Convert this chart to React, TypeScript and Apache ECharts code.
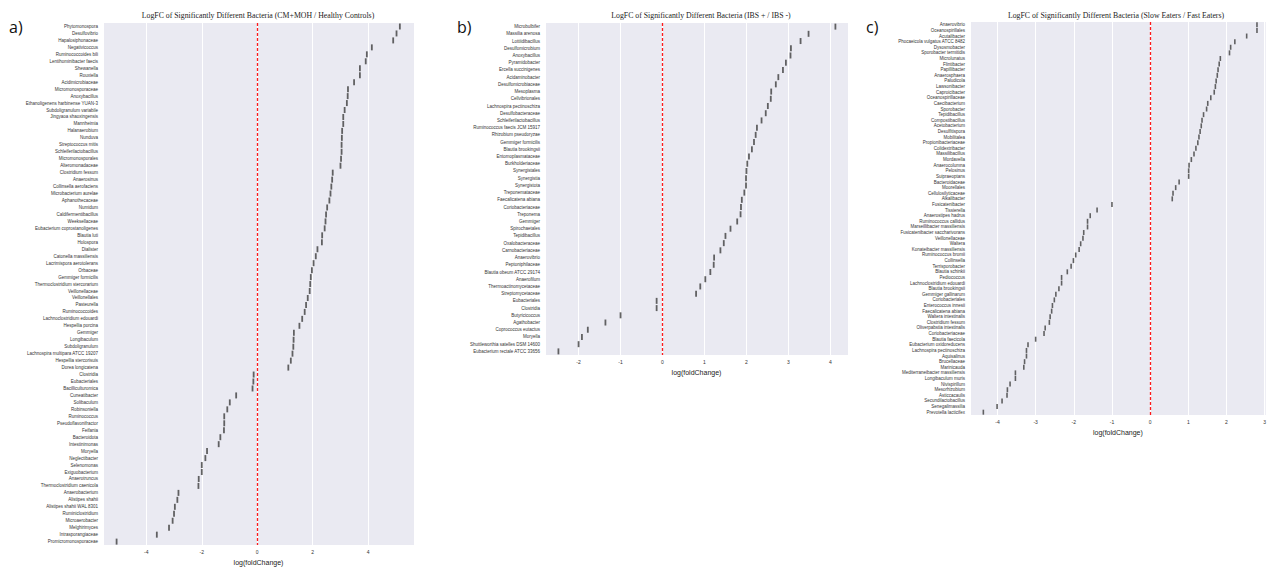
import React, { useEffect, useRef } from "react";
import * as echarts from "echarts";

// Panel a) CM+MOH vs healthy controls
const catsA = [
  "Phytomonospora", "Desulfovibrio", "Hapalosiphonaceae", "Negativicoccus", "Ruminococcoides bili",
  "Lentihominibacter faecis", "Shewanella", "Rouxiella", "Acidimicrobiaceae", "Micromonosporaceae",
  "Anoxybacillus", "Ethanoligenens harbinense YUAN-3", "Subdoligranulum variabile", "Jingyaoa shaoxingensis", "Mannheimia",
  "Halanaerobium", "Nunduva", "Streptococcus mitis", "Schleiferilactobacillus", "Micromonosporales",
  "Alteromonadaceae", "Clostridium fessum", "Anaerosinus", "Collinsella aerofaciens", "Microbacterium aurelae",
  "Aphanothecaceae", "Numidum", "Caldifermentibacillus", "Weeksellaceae", "Eubacterium coprostanoligenes",
  "Blautia luti", "Holospora", "Dialister", "Catonella massiliensis", "Lacrimispora aerotolerans",
  "Orbaceae", "Gemmiger formicilis", "Thermoclostridium stercorarium", "Veillonellaceae", "Veillonellales",
  "Pasteurella", "Ruminococcoides", "Lachnoclostridium edouardi", "Hespellia porcina", "Gemmiger",
  "Longibaculum", "Subdoligranulum", "Lachnospira multipara ATCC 19207", "Hespellia stercorisuis", "Dorea longicatena",
  "Clostridia", "Eubacteriales", "Bacilliculturomica", "Cuneatibacter", "Solibaculum",
  "Robinsoniella", "Ruminococcus", "Pseudoflavonifractor", "Feifania", "Bacteroidota",
  "Intestinimonas", "Moryella", "Neglectibacter", "Selenomonas", "Exiguobacterium",
  "Anaerotruncus", "Thermoclostridium caenicola", "Anaerobacterium", "Alistipes shahii", "Alistipes shahii WAL 8301",
  "Ruminiclostridium", "Microaerobacter", "Melghirimyces", "Intrasporangiaceae", "Promicromonosporaceae",
];
const valsA = [
  5.14, 5.02, 4.9, 4.13, 3.95,
  3.91, 3.7, 3.7, 3.49, 3.27,
  3.26, 3.23, 3.15, 3.1, 3.1,
  3.06, 3.05, 3.04, 3.04, 3.02,
  3.0, 2.72, 2.7, 2.67, 2.64,
  2.6, 2.52, 2.48, 2.46, 2.43,
  2.34, 2.33, 2.17, 2.11, 2.03,
  1.97, 1.93, 1.91, 1.89, 1.82,
  1.76, 1.71, 1.62, 1.52, 1.32,
  1.31, 1.3, 1.27, 1.21, 1.12,
  -0.13, -0.14, -0.17, -0.76, -0.99,
  -1.08, -1.19, -1.19, -1.2, -1.33,
  -1.39, -1.81, -1.87, -2.0, -2.0,
  -2.11, -2.12, -2.84, -2.88, -2.97,
  -3.0, -3.05, -3.18, -3.62, -5.07,
];

// Panel b) IBS+ vs IBS-
const catsB = [
  "Microbulbifer", "Massilia arenosa", "Lottiidibacillus", "Desulfomicrobium", "Anoxybacillus",
  "Pyramidobacter", "Ercella succinigenes", "Acidaminobacter", "Desulfomicrobiaceae", "Mesoplasma",
  "Cellvibrionales", "Lachnospira pectinoschiza", "Desulfobacteraceae", "Schleiferilactobacillus", "Ruminococcus faecis JCM 15917",
  "Rhizobium pseudoryzae", "Gemmiger formicilis", "Blautia brookingsii", "Entomoplasmataceae", "Burkholderiaceae",
  "Synergistales", "Synergistia", "Synergistota", "Treponemataceae", "Faecalicatena abiana",
  "Coriobacteriaceae", "Treponema", "Gemmiger", "Spirochaetales", "Tepidibacillus",
  "Oxalobacteraceae", "Carnobacteriaceae", "Anaerovibrio", "Peptoniphilaceae", "Blautia obeum ATCC 29174",
  "Anaerofilum", "Thermoactinomycetaceae", "Streptomycetaceae", "Eubacteriales", "Clostridia",
  "Butyricicoccus", "Agathobacter", "Coprococcus eutactus", "Moryella", "Shuttleworthia satelles DSM 14600",
  "Eubacterium rectale ATCC 33656",
];
const valsB = [
  4.12, 3.48, 3.29, 3.06, 3.05,
  2.94, 2.87, 2.76, 2.7, 2.59,
  2.58, 2.51, 2.46, 2.36, 2.25,
  2.22, 2.18, 2.13, 2.06, 2.02,
  2.0, 1.99, 1.99, 1.95, 1.89,
  1.87, 1.86, 1.78, 1.62, 1.5,
  1.46, 1.38, 1.23, 1.22, 1.14,
  1.02, 0.9, 0.8, -0.14, -0.14,
  -1.0, -1.36, -1.78, -1.92, -2.0,
  -2.48,
];

// Panel c) slow eaters vs fast eaters
const catsC = [
  "Anaerovibrio", "Oceanospirillales", "Acutalibacter", "Phocaeicola vulgatus ATCC 8482", "Dysosmobacter",
  "Sporobacter termitidis", "Microlunatus", "Flintibacter", "Papillibacter", "Anaerosphaera",
  "Paludicola", "Lawsonibacter", "Caproicibacter", "Oceanospirillaceae", "Caecibacterium",
  "Sporobacter", "Tepidibacillus", "Compostibacillus", "Acetobacterium", "Desulfitispora",
  "Mobilitalea", "Propionibacteriaceae", "Colidextribacter", "Massilibacillus", "Mordavella",
  "Anaerocolumna", "Pelosinus", "Suipraeoptans", "Bacteroidaceae", "Moorellales",
  "Cellulosilyticaceae", "Alkalibacter", "Fusicatenibacter", "Tissierella", "Anaerostipes hadrus",
  "Ruminococcus callidus", "Marseillibacter massiliensis", "Fusicatenibacter saccharivorans", "Veillonellaceae", "Waltera",
  "Konateibacter massiliensis", "Ruminococcus bromii", "Collinsella", "Terrisporobacter", "Blautia schinkii",
  "Pediococcus", "Lachnoclostridium edouardi", "Blautia brookingsii", "Gemmiger gallinarum", "Coriobacteriales",
  "Enterococcus innesii", "Faecalicatena abiana", "Waltera intestinalis", "Clostridium fessum", "Oliverpabstia intestinalis",
  "Coriobacteriaceae", "Blautia faecicola", "Eubacterium oxidoreducens", "Lachnospira pectinoschiza", "Aquisalinus",
  "Brucellaceae", "Marinicauda", "Mediterraneibacter massiliensis", "Longibaculum muris", "Nivispirillum",
  "Mesorhizobium", "Asticcacaulis", "Secundilactobacillus", "Senegalimassilia", "Prevotella lacticifex",
];
const valsC = [
  2.8, 2.8, 2.53, 2.22, 2.11,
  2.08, 1.84, 1.81, 1.78, 1.76,
  1.73, 1.71, 1.68, 1.59, 1.51,
  1.48, 1.4, 1.36, 1.34, 1.31,
  1.28, 1.25, 1.2, 1.15, 1.08,
  1.02, 1.01, 1.01, 0.76, 0.67,
  0.6, 0.58, -1.0, -1.39, -1.57,
  -1.64, -1.64, -1.74, -1.76, -1.82,
  -1.86, -1.95, -2.01, -2.07, -2.17,
  -2.32, -2.32, -2.39, -2.47, -2.51,
  -2.56, -2.58, -2.62, -2.64, -2.75,
  -2.78, -3.0, -3.2, -3.24, -3.24,
  -3.29, -3.31, -3.53, -3.53, -3.67,
  -3.74, -3.75, -3.88, -4.01, -4.37,
];

const titles = [
  "LogFC of Significantly Different Bacteria (CM+MOH / Healthy Controls)",
  "LogFC of Significantly Different Bacteria (IBS + / IBS -)",
  "LogFC of Significantly Different Bacteria (Slow Eaters / Fast Eaters)",
];
const panelTags = ["a)", "b)", "c)"];
const axisTitle = "log(foldChange)";

const panels = [
  { cats: catsA, vals: valsA, grid: { left: 103, top: 23, width: 311, height: 527 }, min: -5.56, max: 5.65, step: 2, mark: [1.8, 6], titleX: 258, tag: [9, 19], nameGap: 11 },
  { cats: catsB, vals: valsB, grid: { left: 545, top: 23, width: 303, height: 332 }, min: -2.8, max: 4.42, step: 1, mark: [1.8, 6], titleX: 701, tag: [457, 19], nameGap: 10 },
  { cats: catsC, vals: valsC, grid: { left: 970, top: 22, width: 299, height: 393 }, min: -4.72, max: 3.03, step: 1, mark: [1.6, 5], titleX: 1116, tag: [866, 19], nameGap: 11 },
];

const sans = "Liberation Sans, Arial, sans-serif";
const serif = "Liberation Serif, Times New Roman, serif";

function buildOption() {
  const tickFmt = (v: number) => (Math.abs(v - Math.round(v)) < 1e-6 ? String(Math.round(v)) : "");
  return {
    animation: false,
    backgroundColor: "#ffffff",
    title: [
      ...panels.map((p, i) => ({
        text: titles[i],
        left: p.titleX,
        top: 11,
        textAlign: "center",
        padding: 0,
        textStyle: { fontFamily: serif, fontSize: 7.8, fontWeight: "normal", color: "#222" },
      })),
      ...panels.map((p, i) => ({
        text: panelTags[i],
        left: p.tag[0],
        top: p.tag[1],
        padding: 0,
        textStyle: { fontFamily: "Open Sans, sans-serif", fontSize: 16, fontWeight: "normal", color: "#111" },
      })),
    ],
    grid: panels.map((p) => ({
      ...p.grid,
      show: true,
      backgroundColor: "#EAEAF2",
      borderWidth: 0,
      containLabel: false,
    })),
    xAxis: panels.map((p, i) => ({
      type: "value",
      gridIndex: i,
      min: p.min,
      max: p.max,
      minInterval: p.step,
      maxInterval: p.step,
      name: axisTitle,
      nameLocation: "middle",
      nameGap: p.nameGap,
      nameTextStyle: { fontFamily: sans, fontSize: 7, color: "#222" },
      axisLine: { show: false },
      axisTick: { show: false },
      axisLabel: { fontFamily: sans, fontSize: 5, color: "#333", margin: 4, formatter: tickFmt },
      splitLine: { show: true, lineStyle: { color: "#ffffff", width: 1 } },
    })),
    yAxis: panels.map((p, i) => ({
      type: "category",
      gridIndex: i,
      inverse: true,
      data: p.cats,
      axisLine: { show: false },
      axisTick: { show: false },
      splitLine: { show: false },
      axisLabel: { interval: 0, fontFamily: sans, fontSize: 4.5, color: "#333", margin: 5 },
    })),
    series: panels.map((p, i) => ({
      type: "scatter",
      xAxisIndex: i,
      yAxisIndex: i,
      symbol: "rect",
      symbolSize: p.mark,
      itemStyle: { color: "#3d3d3d" },
      data: p.vals.map((v, k) => [v, p.cats[k]]),
      markLine: {
        silent: true,
        z: 5,
        symbol: ["none", "none"],
        label: { show: false },
        lineStyle: { color: "#ff1a1a", type: [3, 2], width: 1.3, opacity: 1 },
        data: [{ xAxis: 0 }],
      },
    })),
  };
}

export default function App() {
  const ref = useRef<HTMLDivElement>(null);
  useEffect(() => {
    if (!ref.current) return;
    const chart = echarts.init(ref.current, undefined, { renderer: "svg" });
    chart.setOption(buildOption() as any);
    return () => chart.dispose();
  }, []);
  return (
    <div
      ref={ref}
      style={{ position: "absolute", left: 0, top: 0, width: 1269, height: 571, background: "#fff" }}
    />
  );
}
